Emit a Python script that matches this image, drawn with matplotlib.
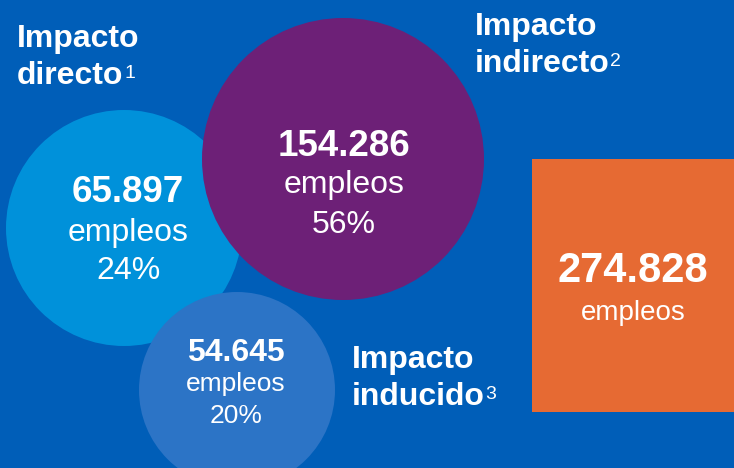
import matplotlib
matplotlib.use("Agg")
import matplotlib.pyplot as plt
from matplotlib.patches import Circle, Rectangle

plt.rcParams["font.family"] = ["Liberation Sans", "DejaVu Sans"]

# data
labels = ["directo", "indirecto", "inducido"]
notes = ["1", "2", "3"]
empleos = ["65.897", "154.286", "54.645"]
shares = ["24%", "56%", "20%"]
total = "274.828"

# layout in pixels (x, y, radius), y measured from top
circles = [(124, 228, 118), (343, 159, 141), (237, 390, 98)]
colors = ["#0091DA", "#6D2077", "#2C74C6"]
text_x = [128, 344, 236]
num_size = [26.5, 26.5, 23]
sub_size = [23, 23, 19]
line_y = [(193, 233, 271), (146, 185, 225), (353, 384, 416)]
title_pos = [(17, 47), (475, 35), (352, 368)]

bg = "#005EB8"
orange = "#E66A33"

fig = plt.figure(figsize=(7.34, 4.68), dpi=100)
fig.patch.set_facecolor(bg)
ax = fig.add_axes([0, 0, 1, 1])
ax.set_xlim(0, 734)
ax.set_ylim(468, 0)
ax.set_aspect("equal")
ax.axis("off")

for (cx, cy, r), c in zip(circles, colors):
    ax.add_patch(Circle((cx, cy), r, facecolor=c, edgecolor="none"))

ax.add_patch(Rectangle((532, 159), 202, 253, facecolor=orange, edgecolor="none"))

for i in range(3):
    y1, y2, y3 = line_y[i]
    ax.text(text_x[i], y1, empleos[i], color="white", fontsize=num_size[i],
            fontweight="bold", ha="center", va="center")
    ax.text(text_x[i], y2, "empleos", color="white", fontsize=sub_size[i],
            ha="center", va="center")
    ax.text(text_x[i], y3, shares[i], color="white", fontsize=sub_size[i],
            ha="center", va="center")

ax.text(633, 271, total, color="white", fontsize=30, fontweight="bold",
        ha="center", va="center")
ax.text(633, 313, "empleos", color="white", fontsize=20, ha="center", va="center")

for i in range(3):
    x, y = title_pos[i]
    ax.text(x, y, "Impacto", color="white", fontsize=23, fontweight="bold",
            ha="left", va="baseline")
    t = ax.text(x, y + 37, labels[i], color="white", fontsize=23,
                fontweight="bold", ha="left", va="baseline")
    ax.annotate(notes[i], xy=(1, 1), xycoords=t, xytext=(0.5, -3),
                textcoords="offset points", color="white", fontsize=14,
                ha="left", va="top")

fig.savefig("out.png", dpi=100, facecolor=bg)
